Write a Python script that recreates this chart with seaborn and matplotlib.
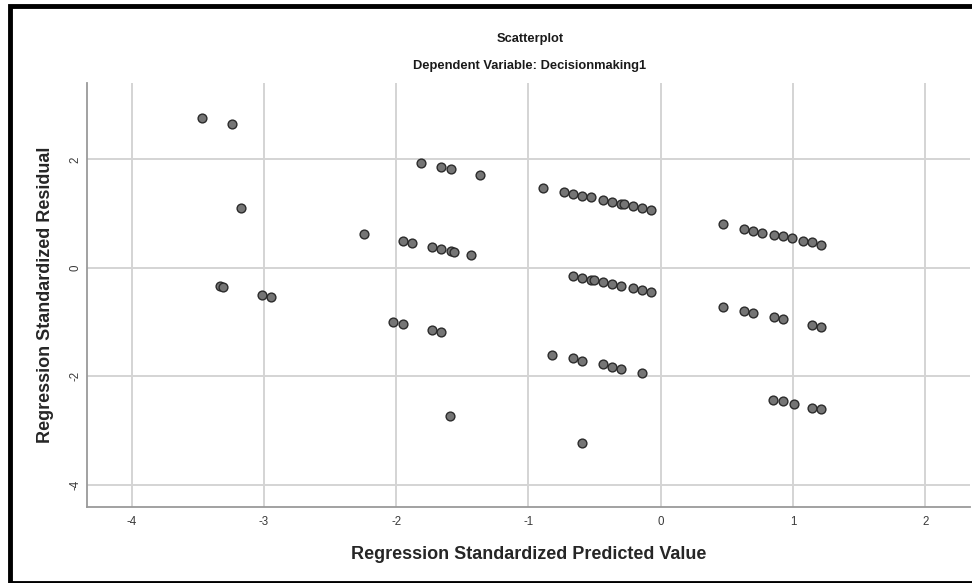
import numpy as np
import pandas as pd
import matplotlib
matplotlib.use("Agg")
import matplotlib.pyplot as plt
import seaborn as sns
from matplotlib.patches import Rectangle

# values
pred = [-3.467, -3.240, -1.816, -1.658, -1.587, -1.363, -3.172,
        -2.245, -1.952, -1.884, -1.728, -1.658, -1.587, -1.565, -1.434,
        -3.333, -3.308, -3.018, -2.948, -2.023, -1.952, -1.728, -1.658, -1.590,
        -0.890, -0.731, -0.660, -0.595, -0.527, -0.436, -0.368, -0.297, -0.280, -0.209, -0.141, -0.076,
        0.471, 0.630, 0.698, 0.766, 0.854, 0.922, 0.990, 1.076, 1.146, 1.212,
        -0.660, -0.595, -0.527, -0.504, -0.436, -0.368, -0.297, -0.209, -0.141, -0.076,
        0.471, 0.630, 0.698, 0.854, 0.922, 1.146, 1.212,
        -0.819, -0.660, -0.592, -0.436, -0.368, -0.297, -0.141,
        0.852, 0.922, 1.008, 1.144, 1.212,
        -0.592]
resid = [2.76, 2.65, 1.94, 1.86, 1.82, 1.71, 1.10,
         0.63, 0.49, 0.45, 0.38, 0.34, 0.31, 0.29, 0.23,
         -0.34, -0.35, -0.50, -0.54, -1.00, -1.04, -1.14, -1.18, -2.73,
         1.47, 1.39, 1.36, 1.32, 1.30, 1.25, 1.21, 1.18, 1.17, 1.14, 1.11, 1.07,
         0.80, 0.72, 0.68, 0.65, 0.61, 0.58, 0.55, 0.50, 0.47, 0.43,
         -0.15, -0.19, -0.23, -0.23, -0.26, -0.30, -0.34, -0.38, -0.41, -0.45,
         -0.72, -0.79, -0.83, -0.91, -0.94, -1.05, -1.09,
         -1.60, -1.67, -1.71, -1.78, -1.83, -1.86, -1.93,
         -2.43, -2.46, -2.51, -2.58, -2.61,
         -3.23]
x_ticks = [-4, -3, -2, -1, 0, 1, 2]
y_ticks = [-4, -2, 0, 2]

df = pd.DataFrame({"pred": pred, "resid": resid})

sns.set_style("white")
plt.rcParams['font.family'] = ['Liberation Sans', 'DejaVu Sans']
plt.rcParams['axes.unicode_minus'] = False

fig = plt.figure(figsize=(9.72, 5.83), dpi=100)
ax = fig.add_axes([0.0892, 0.131, 0.909, 0.726])

ax.set_xlim(-4.34, 2.34)
ax.set_ylim(-4.40, 3.40)
ax.set_xticks(x_ticks)
ax.set_yticks(y_ticks)
ax.grid(True, color='#d4d4d4', linewidth=1.4, zorder=0)
ax.set_axisbelow(True)

sns.scatterplot(data=df, x="pred", y="resid", ax=ax, s=40, color='#757575',
                edgecolor='#2b2b2b', linewidth=1.0, zorder=3)

for side in ['top', 'right']:
    ax.spines[side].set_visible(False)
for side in ['left', 'bottom']:
    ax.spines[side].set_color('#9a9a9a')
    ax.spines[side].set_linewidth(1.3)

ax.tick_params(length=0, labelsize=8.3, colors='#3a3a3a')
ax.tick_params(axis='x', pad=7)
ax.tick_params(axis='y', pad=4)
plt.setp(ax.get_yticklabels(), rotation=90, va='center')

ax.set_xlabel("Regression Standardized Predicted Value", fontsize=13,
              fontweight='bold', va='center')
ax.set_ylabel("Regression Standardized Residual", fontsize=13,
              fontweight='bold', va='center')
ax.xaxis.set_label_coords(0.5, -0.112)
ax.yaxis.set_label_coords(-0.047, 0.5)

fig.text(0.545, 0.933, "Scatterplot", ha='center', va='center', fontsize=9.3,
         fontweight='bold', color='#1a1a1a')
fig.text(0.545, 0.887, "Dependent Variable: Decisionmaking1", ha='center',
         va='center', fontsize=9.3, fontweight='bold', color='#1a1a1a')

# black frame round the picture (left, top, bottom)
fig.patches.append(Rectangle((0.0108, 0.0), 1.2, 0.9896, transform=fig.transFigure,
                             fill=False, edgecolor='black', linewidth=3.5))

fig.savefig("out.png", dpi=100)
